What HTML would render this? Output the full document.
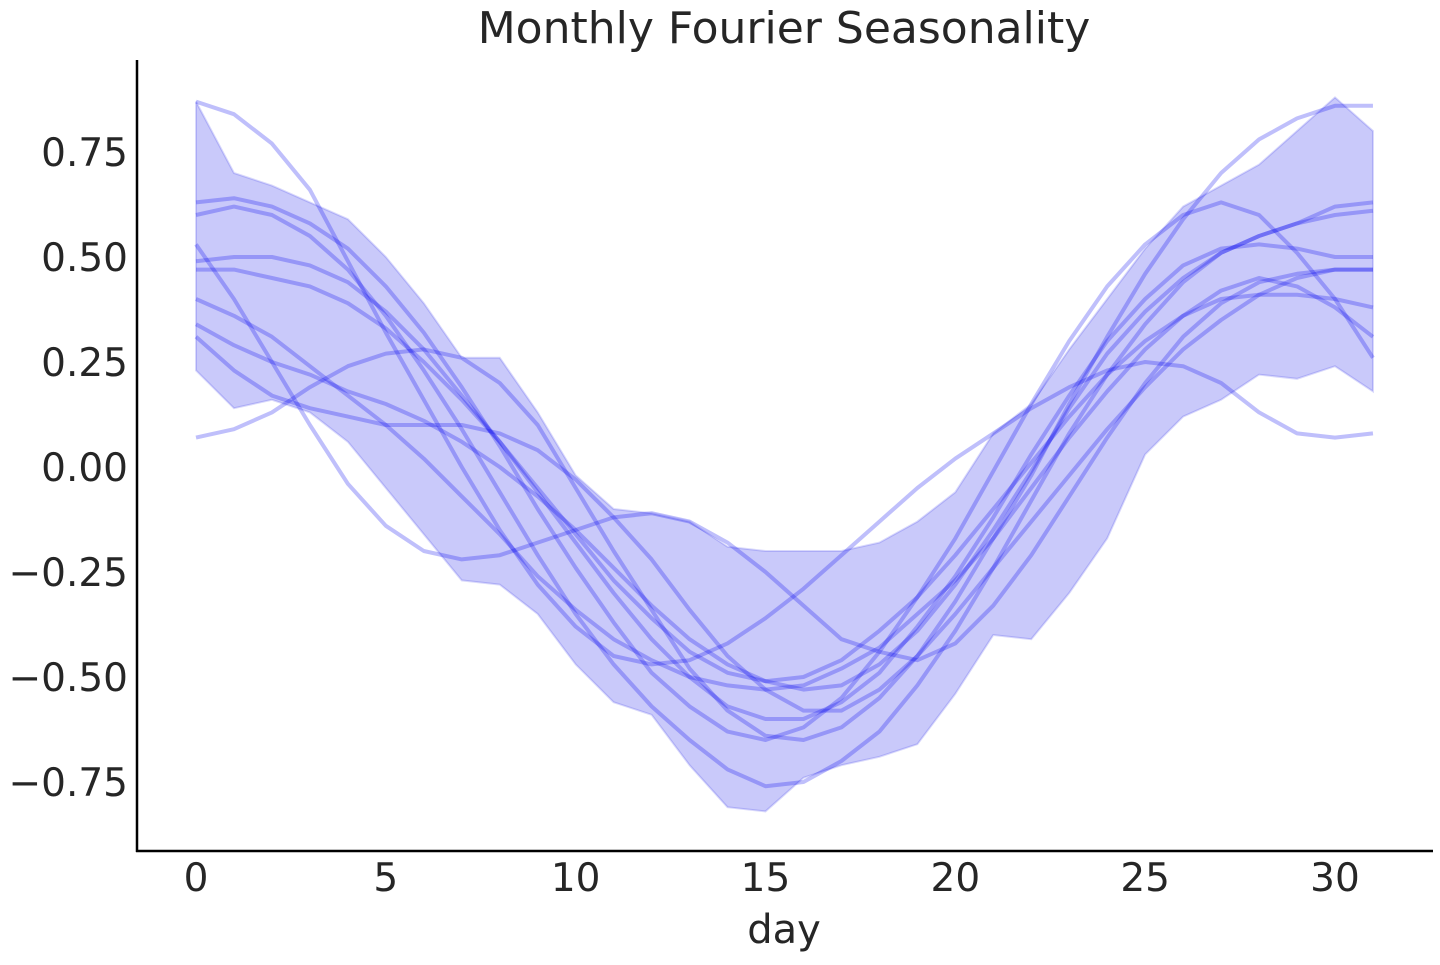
<!DOCTYPE html>
<html><head><meta charset="utf-8"><style>
body{margin:0;background:#fff;}
svg text{font-family:"DejaVu Sans","Liberation Sans",sans-serif;fill:#262626;}
</style></head><body>
<svg id="chart" width="1440" height="960" xmlns="http://www.w3.org/2000/svg">
<text x="784" y="43" font-size="44" text-anchor="middle">Monthly Fourier Seasonality</text>
<g id="plot"></g>
<line x1="137" y1="60" x2="137" y2="852" stroke="#000" stroke-width="2.5"/>
<line x1="136" y1="851" x2="1433" y2="851" stroke="#000" stroke-width="2.5"/>
<g id="ticks"></g>
<text x="784" y="943" font-size="40" text-anchor="middle">day</text>
</svg>
<script>
const days = Array.from({length:32},(_,i)=>i);
const xTicks = [0,5,10,15,20,25,30];
const yTicks = [0.75,0.5,0.25,0,-0.25,-0.5,-0.75];
const yTickLabels = ["0.75","0.50","0.25","0.00","\u22120.25","\u22120.50","\u22120.75"];
const bandUpper = [0.87,0.70,0.67,0.63,0.59,0.50,0.39,0.26,0.26,0.13,-0.02,-0.10,-0.11,-0.13,-0.19,-0.20,-0.20,-0.20,-0.18,-0.13,-0.06,0.08,0.15,0.28,0.40,0.52,0.62,0.67,0.72,0.80,0.88,0.80];
const bandLower = [0.23,0.14,0.16,0.13,0.06,-0.05,-0.16,-0.27,-0.28,-0.35,-0.47,-0.56,-0.59,-0.71,-0.81,-0.82,-0.74,-0.71,-0.69,-0.66,-0.54,-0.40,-0.41,-0.30,-0.17,0.03,0.12,0.16,0.22,0.21,0.24,0.18];
const lineA = [0.87,0.84,0.77,0.66,0.49,0.32,0.16,0.00,-0.15,-0.28,-0.38,-0.45,-0.47,-0.46,-0.42,-0.36,-0.29,-0.21,-0.13,-0.05,0.02,0.08,0.14,0.19,0.23,0.25,0.24,0.20,0.13,0.08,0.07,0.08];
const lineB = [0.07,0.09,0.13,0.19,0.24,0.27,0.28,0.26,0.20,0.10,-0.05,-0.20,-0.34,-0.48,-0.58,-0.64,-0.65,-0.62,-0.55,-0.45,-0.32,-0.17,-0.02,0.15,0.31,0.46,0.59,0.70,0.78,0.83,0.86,0.86];
const lineC = [0.53,0.40,0.25,0.10,-0.04,-0.14,-0.20,-0.22,-0.21,-0.18,-0.15,-0.12,-0.11,-0.13,-0.18,-0.25,-0.33,-0.41,-0.44,-0.46,-0.42,-0.33,-0.21,-0.07,0.07,0.20,0.31,0.39,0.44,0.46,0.47,0.47];
const lineD = [0.63,0.64,0.62,0.58,0.52,0.43,0.32,0.19,0.05,-0.10,-0.24,-0.37,-0.49,-0.57,-0.63,-0.65,-0.62,-0.55,-0.44,-0.31,-0.17,-0.01,0.15,0.30,0.43,0.53,0.60,0.63,0.60,0.51,0.40,0.26];
const lineE = [0.60,0.62,0.60,0.55,0.47,0.36,0.23,0.09,-0.06,-0.21,-0.35,-0.47,-0.57,-0.65,-0.72,-0.76,-0.75,-0.70,-0.63,-0.52,-0.39,-0.24,-0.08,0.08,0.22,0.34,0.44,0.51,0.55,0.58,0.62,0.63];
const lineF = [0.49,0.50,0.50,0.48,0.44,0.37,0.28,0.17,0.06,-0.06,-0.18,-0.30,-0.41,-0.50,-0.57,-0.60,-0.60,-0.56,-0.49,-0.38,-0.26,-0.12,0.03,0.17,0.30,0.40,0.48,0.52,0.53,0.52,0.50,0.50];
const lineG = [0.47,0.47,0.45,0.43,0.39,0.33,0.25,0.16,0.06,-0.05,-0.16,-0.27,-0.36,-0.44,-0.49,-0.51,-0.50,-0.46,-0.39,-0.31,-0.21,-0.10,0.01,0.12,0.22,0.30,0.36,0.40,0.41,0.41,0.40,0.38];
const lineH = [0.40,0.36,0.31,0.24,0.17,0.10,0.02,-0.07,-0.16,-0.26,-0.34,-0.41,-0.46,-0.50,-0.52,-0.53,-0.52,-0.48,-0.43,-0.35,-0.27,-0.17,-0.05,0.07,0.18,0.28,0.36,0.42,0.45,0.43,0.38,0.31];
const lineI = [0.34,0.29,0.25,0.22,0.18,0.15,0.11,0.06,0.00,-0.07,-0.15,-0.24,-0.33,-0.41,-0.47,-0.51,-0.53,-0.52,-0.47,-0.39,-0.28,-0.15,-0.01,0.14,0.27,0.37,0.45,0.51,0.55,0.58,0.60,0.61];
const lineJ = [0.31,0.23,0.17,0.14,0.12,0.10,0.10,0.10,0.08,0.04,-0.03,-0.12,-0.22,-0.34,-0.45,-0.53,-0.58,-0.58,-0.53,-0.45,-0.35,-0.24,-0.13,-0.02,0.09,0.19,0.28,0.35,0.41,0.45,0.47,0.47];
const allLines = [lineA,lineB,lineC,lineD,lineE,lineF,lineG,lineH,lineI,lineJ];

const NS="http://www.w3.org/2000/svg";
function xs(d){return 196 + d*(1335-196)/30;}
function ys(v){return 467 - v*420;}
const plot=document.getElementById('plot');
const ticks=document.getElementById('ticks');

let pts = days.map((d,i)=>xs(d)+','+ys(bandUpper[i]));
for(let i=days.length-1;i>=0;i--) pts.push(xs(days[i])+','+ys(bandLower[i]));
const band=document.createElementNS(NS,'polygon');
band.setAttribute('points',pts.join(' '));
band.setAttribute('fill','rgba(0,0,230,0.21)');
band.setAttribute('stroke','rgba(0,0,230,0.15)');
band.setAttribute('stroke-width','2');


plot.appendChild(band);

allLines.forEach((arr,k)=>{
  const pl=document.createElementNS(NS,'polyline');
  pl.setAttribute('points',days.map((d,i)=>xs(d)+','+ys(arr[i])).join(' '));
  pl.setAttribute('fill','none');
  pl.setAttribute('stroke','rgba(0,0,240,0.25)');
  pl.setAttribute('stroke-width','4');
  pl.setAttribute('stroke-linejoin','round');
  
  
  plot.appendChild(pl);
});

xTicks.forEach(t=>{
  const tx=document.createElementNS(NS,'text');
  tx.setAttribute('x',xs(t));tx.setAttribute('y',891);
  tx.setAttribute('font-size','39');tx.setAttribute('text-anchor','middle');
  tx.textContent=t;
  
  
  ticks.appendChild(tx);
});
yTicks.forEach((t,i)=>{
  const tx=document.createElementNS(NS,'text');
  tx.setAttribute('x',128);tx.setAttribute('y',ys(t)+14);
  tx.setAttribute('font-size','39');tx.setAttribute('text-anchor','end');
  tx.textContent=yTickLabels[i];
  
  
  ticks.appendChild(tx);
});
</script>
</body></html>
